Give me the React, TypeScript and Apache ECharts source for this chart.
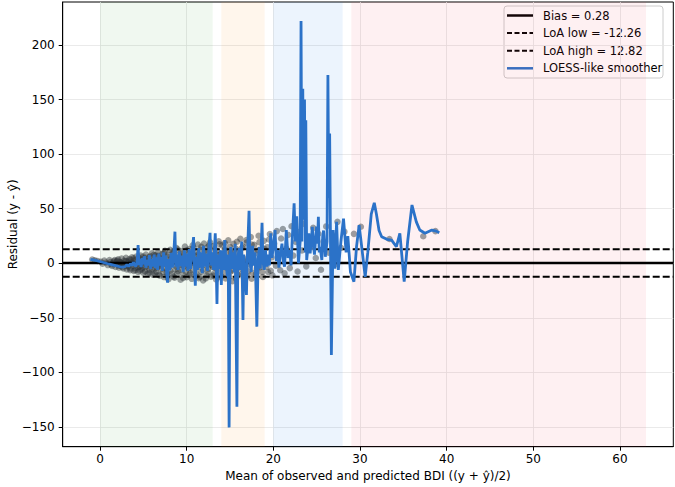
import React, { useEffect, useRef } from 'react';
import * as echarts from 'echarts';

const X_MIN = -4.3;
const X_MAX = 66.15;
const Y_MIN = -168.0;
const Y_MAX = 239.4;

const xTicks = [0, 10, 20, 30, 40, 50, 60];
const yTicks = [-150, -100, -50, 0, 50, 100, 150, 200];

const bias = 0.28;
const loaLow = -12.26;
const loaHigh = 12.82;

const legendLabels = ['Bias = 0.28', 'LoA low = -12.26', 'LoA high = 12.82', 'LOESS-like smoother'];

// BDI severity bands [from, to]
const bandRanges: [number, number][] = [[0, 13], [14, 19], [20, 28], [29, 63]];
const bandColors = ['rgba(44,160,44,0.07)', 'rgba(255,160,40,0.09)', 'rgba(40,130,230,0.09)', 'rgba(240,60,90,0.08)'];

// Scatter of (mean, residual)
const scatterPoints: [number, number][] = [
  [-0.9,3.5],[-0.6,2.8],[-0.3,2.2],[0.1,1.5],[0.3,-0.4],[0.5,2.6],[0.7,0.8],[0.9,-1.6],[1.1,3.0],[1.2,1.2],[1.4,-2.5],[1.5,0.4],[1.7,2.9],[1.8,-3.3],[1.9,1.7],[2.0,-0.8],
  [2.1,3.6],[2.2,-4.0],[2.3,1.1],[2.4,-2.2],[2.5,4.3],[2.6,0.2],[2.7,-4.8],[2.8,2.4],[2.9,-1.5],[3.0,5.1],[3.1,-5.6],[3.2,1.8],[3.3,-3.0],[3.4,3.9],[3.5,-6.4],[3.6,0.7],[3.7,5.6],[3.8,-2.1],[3.9,-6.9],[4.0,2.8],[4.1,-4.3],[4.2,6.3],[4.3,-0.6],[4.4,-7.8],[4.5,3.7],[4.6,-2.8],[4.7,7.1],[4.8,-5.5],[4.9,1.2],[5.0,-8.6],
  [5.1,4.6],[5.2,-3.5],[5.3,8.0],[5.4,-0.9],[5.5,-9.3],[5.6,2.5],[5.7,-6.1],[5.8,6.5],[5.9,-1.8],[6.0,9.2],[6.1,-10.4],[6.2,3.3],[6.3,-4.6],[6.4,7.4],[6.5,-7.7],[6.6,0.4],[6.7,10.1],[6.8,-2.6],[6.9,-11.3],[7.0,5.0],[7.1,-5.2],[7.2,8.6],[7.3,-0.5],[7.4,-12.6],[7.5,11.5],[7.6,2.1],[7.7,-8.4],[7.8,6.2],[7.9,-14.5],[8.0,-3.1],
  [8.1,12.3],[8.2,4.2],[8.3,-9.5],[8.4,0.9],[8.5,9.8],[8.6,-13.2],[8.7,-5.4],[8.8,14.1],[8.9,3.1],[9.0,-7.2],[9.1,7.6],[9.2,-1.7],[9.3,-15.0],[9.4,11.2],[9.5,5.5],[9.6,-10.3],[9.7,-2.6],[9.8,15.4],[9.9,1.9],[10.0,-12.8],[10.1,8.3],[10.2,-4.5],[10.3,13.0],[10.4,-8.9],[10.5,3.8],[10.6,-14.2],[10.7,16.5],[10.8,-0.7],[10.9,6.9],[11.0,-11.4],
  [11.1,10.6],[11.2,-3.9],[11.3,17.2],[11.4,-13.6],[11.5,2.7],[11.6,12.4],[11.7,-7.8],[11.8,5.9],[11.9,-15.6],[12.0,18.1],[12.1,-1.3],[12.2,9.0],[12.3,-10.9],[12.4,14.7],[12.5,-5.1],[12.6,0.3],[12.7,19.3],[12.8,-12.2],[12.9,7.3],[13.0,-3.3],[13.1,15.9],[13.2,-9.1],[13.3,4.6],[13.4,-14.8],[13.5,11.7],[13.6,-0.4],[13.7,20.2],[13.8,-6.7],[13.9,8.5],[14.0,-11.8],
  [14.1,16.4],[14.2,-2.5],[14.4,12.9],[14.5,-13.9],[14.7,4.1],[14.8,21.0],[15.0,-8.0],[15.1,9.6],[15.3,-16.3],[15.4,17.8],[15.6,-0.8],[15.7,13.4],[15.9,-10.6],[16.0,6.1],[16.2,22.4],[16.3,-4.7],[16.5,15.3],[16.6,-12.9],[16.8,1.5],[16.9,19.0],[17.1,-7.3],[17.2,10.5],[17.4,24.0],[17.5,-14.1],[17.7,3.4],[17.8,16.9],[18.0,-9.8],
  [18.2,12.0],[18.3,25.3],[18.5,-3.6],[18.6,7.8],[18.8,-12.5],[18.9,20.6],[19.1,0.6],[19.3,14.8],[19.4,-7.9],[19.6,26.9],[19.8,5.3],[19.9,-11.0],[20.1,18.2],[20.3,-2.2],[20.4,29.5],[20.6,9.4],[20.8,-6.3],[20.9,22.7],[21.1,31.4],
  [21.3,-9.2],[21.5,13.6],[21.7,26.0],[21.9,-4.4],[22.1,34.0],[22.3,7.1],[22.6,19.5],[22.8,-7.5],[23.0,28.7],[23.3,11.8],[23.5,36.2],[23.8,-2.8],[24.0,23.3],[24.3,15.0],[24.6,32.5],[24.9,4.9],[25.2,27.1],[25.5,-5.9],[25.8,19.9],[26.1,33.8],[26.4,9.7],[26.8,25.6],[27.1,-1.1],[27.4,38.0],[27.8,14.2],[28.2,29.0],
  [29.3,27.0],[30.1,33.5],[33.4,22.3],[37.3,24.8],[38.7,29.5]
];

const scatterPointsDense: [number, number][] = [
  [1.3,-1.0],[1.6,1.9],[2.0,2.6],[2.2,-1.9],[2.4,0.9],[2.6,-3.6],[2.8,-0.6],[3.0,2.0],[3.1,-2.4],[3.3,0.5],[3.5,-4.8],[3.6,3.2],[3.8,-0.2],[3.9,4.5],[4.1,-6.2],[4.2,1.4],[4.4,-3.5],[4.5,5.3],[4.6,-6.6],[4.8,0.3],[4.9,-4.0],[5.0,6.1],[5.2,-7.5],[5.3,2.2],[5.5,-2.8],[5.6,5.4],[5.7,-8.6],[5.9,0.9],[6.0,-5.3],[6.2,7.9],[6.3,-9.4],[6.4,1.6],[6.6,-3.9],[6.7,6.8],[6.8,-10.2],[7.0,-0.8],[7.1,3.6],[7.3,-8.0],[7.4,9.6],[7.5,-4.4],[7.7,1.2],[7.8,-11.6],[7.9,7.7],[8.1,-6.8],[8.2,-0.4],[8.4,10.9],[8.5,-12.1],[8.6,4.8],[8.8,-2.9],[8.9,-9.8],[9.0,12.6],[9.2,1.0],[9.3,-5.8],[9.5,8.9],[9.6,-13.4],[9.7,3.4],[9.9,-7.6],[10.0,11.8],[10.1,-1.4],[10.3,-10.6],[10.4,6.2],[10.6,0.4],[10.7,-6.2],[10.8,13.9],[11.0,2.3],[11.1,-9.4],[11.3,8.1],[11.4,-1.8],[11.5,-12.3],[11.7,15.1],[11.8,0.9],[11.9,-5.9],[12.1,11.3],[12.2,-13.9],[12.4,3.5],[12.5,-8.4],[12.6,16.6],[12.8,5.2],[12.9,-1.6],[13.1,-11.3],[13.2,12.8],[13.3,-4.4],[13.5,7.9],[13.6,-13.0],[13.8,17.4],[13.9,-2.1],[14.1,3.3],[14.3,-8.8],[14.4,18.6],[14.6,-4.0],[14.7,10.1],[14.9,-12.4],[15.0,15.2],[15.2,1.7],[15.3,-6.6],[15.5,11.0],[15.7,-14.0],[15.8,19.8],[16.0,-2.6],[16.1,8.4],[16.3,-9.9],[16.4,14.1],[16.6,3.9],[16.7,-6.0],[16.9,21.3],[17.0,-11.8],[17.2,6.7],[17.3,-1.2],[17.5,17.2],[17.6,-8.6],[17.9,9.1],[18.1,-4.9],[18.4,19.4],[18.7,-8.0],[19.0,13.0],[19.2,-3.0],[19.5,21.8],[19.7,-6.8]
];

// LOESS-like smoother (mean, residual)
const smootherPoints: [number, number][] = [
  [-1.1,3.7],[-0.5,2.6],[0.2,1.2],[1.0,-0.6],[1.8,-2.2],[2.5,-3.6],[2.9,-3.0],[3.1,-1.2],[3.3,-2.8],[3.5,-0.5],[3.7,-2.0],[3.85,1.0],[4.0,-1.5],[4.15,-3.0],[4.3,3.0],[4.4,16.8],[4.5,-1.5],[4.6,4.0],[4.75,-3.5],[4.9,5.0],[5.0,-1.0],[5.15,6.5],[5.3,-4.0],[5.45,3.0],[5.6,-2.0],[5.7,7.5],[5.85,-5.0],[6.0,4.0],[6.1,-3.0],[6.25,8.0],[6.4,-4.5],[6.5,5.5],[6.65,-6.0],[6.8,9.0],[6.9,-2.0],[7.05,6.0],[7.2,-7.0],[7.35,10.0],[7.45,-3.0],[7.6,7.0],[7.7,-9.0],[7.8,-17.7],[7.9,4.0],[8.05,-6.5],[8.2,9.5],[8.35,-4.0],[8.5,6.0],[8.65,29.0],[8.75,-3.0],[8.9,8.0],[9.0,-6.0],[9.15,11.0],[9.3,-2.5],[9.45,7.0],[9.6,-8.0],[9.75,12.0],[9.85,-3.0],[10.0,9.0],[10.15,-7.0],[10.3,13.0],[10.45,-5.0],[10.6,8.0],[10.8,24.0],[10.9,-2.0],[11.0,-20.5],[11.1,6.0],[11.25,-6.0],[11.4,14.0],[11.5,-4.0],[11.65,10.0],[11.8,-9.0],[11.95,16.0],[12.1,-3.0],[12.25,9.0],[12.4,-7.0],[12.55,12.0],[12.7,28.0],[12.8,-2.0],[12.95,10.0],[13.1,-6.0],[13.3,27.5],[13.4,2.0],[13.5,-37.3],[13.6,8.0],[13.75,-5.0],[13.9,12.0],[14.0,-19.9],
  [14.15,12.0],[14.3,-6.0],[14.4,21.3],[14.55,0.0],[14.7,-12.0],[14.8,8.0],[14.9,-150.3],[15.0,5.0],[15.1,15.0],[15.2,-5.0],[15.35,10.0],[15.5,-8.0],[15.6,18.0],[15.8,-131.4],[15.9,4.0],[16.05,14.0],[16.2,-6.0],[16.35,20.0],[16.5,-52.0],[16.6,8.0],[16.75,-10.0],[16.9,-29.0],[17.0,5.0],[17.2,48.2],[17.3,2.0],[17.45,-8.0],[17.6,16.0],[17.75,-2.0],[17.9,10.0],[18.1,-58.0],[18.25,4.0],[18.4,15.0],[18.5,-5.0],[18.7,37.2],[18.8,2.0],[18.95,-6.0],[19.1,12.0],[19.25,-3.0],[19.4,8.0],[19.55,-2.0],[19.7,27.5],[19.85,5.0],[20.0,15.0],[20.2,30.5],[20.35,2.0],[20.5,12.0],[20.65,-4.0],[20.8,8.0],[21.0,18.0],[21.15,2.0],[21.3,-3.0],[21.5,30.5],[21.7,5.0],[21.9,12.0],[22.05,-2.0],[22.2,25.0],[22.4,55.0],[22.55,20.0],[22.7,43.0],[22.9,0.0],[23.1,20.0],[23.2,222.0],[23.3,20.0],[23.4,160.0],[23.5,40.0],[23.6,150.0],[23.7,10.0],[23.75,131.0],[23.85,3.0],[24.0,15.0],[24.1,27.5],[24.25,9.0],[24.4,22.0],[24.5,33.5],[24.65,15.0],[24.75,8.0],[24.9,25.0],[25.0,33.5],[25.1,18.0],[25.2,42.7],[25.3,10.0],[25.4,15.0],[25.6,3.0],[25.7,25.0],[25.8,30.0],[26.0,6.0],[26.2,20.0],[26.3,172.5],[26.4,60.0],[26.5,119.0],[26.7,-84.0],[26.9,30.5],[27.1,-5.0],[27.3,38.0],[27.5,-6.0],[27.8,20.0],[28.1,41.0],[28.4,10.0],[28.6,25.0],[28.9,-8.0],[29.3,-16.8],[29.6,15.0],[29.9,35.0],[30.2,15.0],[30.6,-12.3],[30.9,10.0],[31.3,45.0],[31.65,55.5],[31.9,45.0],[32.2,30.0],[32.5,24.4],[33.1,22.0],[33.65,21.3],[34.2,15.2],[34.6,27.5],[35.1,-16.8],[35.5,20.0],[36.0,53.4],[36.5,38.0],[36.9,30.5],[37.5,27.5],[38.3,30.5],[38.8,29.5],[39.15,28.0]
];

const minus = (v: number) => String(v).replace('-', '\u2212');
const FONT = 'DejaVu Sans';

export default function App() {
  const ref = useRef<HTMLDivElement>(null);
  useEffect(() => {
    document.body.style.margin = '0';
    const chart = echarts.init(ref.current!, null, { renderer: 'svg' });
    const hline = (name: string, v: number, type: any, width: number) => ({
      name,
      type: 'line',
      data: [[X_MIN, v], [X_MAX, v]],
      symbol: 'none',
      z: 4,
      lineStyle: { color: '#000', width, type },
      itemStyle: { color: '#000' },
      silent: true,
    });
    const legendStyles = [
      { stroke: '#000', lineWidth: 2.5 },
      { stroke: '#000', lineWidth: 2, lineDash: [5, 2.5] },
      { stroke: '#000', lineWidth: 2, lineDash: [5, 2.5] },
      { stroke: '#2b72c8', lineWidth: 2.5 },
    ];
    const lx = 504, ly = 6, rowH = 17.6;
    const legendGraphic = {
      type: 'group',
      z: 100,
      children: [
        {
          type: 'rect',
          shape: { x: lx, y: ly, width: 159, height: 72, r: 3 },
          style: { fill: 'rgba(255,255,255,0.85)', stroke: '#cccccc', lineWidth: 1 },
        },
        ...legendLabels.flatMap((label, i) => {
          const cy = ly + 9.5 + i * rowH;
          return [
            { type: 'line', shape: { x1: lx + 3, y1: cy, x2: lx + 29, y2: cy }, style: legendStyles[i] },
            { type: 'text', x: lx + 39, y: cy, style: { text: label, fontSize: 11.5, fontFamily: FONT, fill: '#000', verticalAlign: 'middle', align: 'left' } },
          ];
        }),
      ],
    };
    chart.setOption({
      animation: false,
      textStyle: { fontFamily: FONT },
      grid: { left: 62.7, right: 1.7, top: 2, bottom: 40.3, show: true, borderColor: '#000', borderWidth: 1, backgroundColor: 'transparent', containLabel: false, outerBoundsMode: 'none' },
      graphic: [legendGraphic],
      xAxis: {
        type: 'value', min: X_MIN, max: X_MAX,
        name: 'Mean of observed and predicted BDI ((y + \u0177)/2)',
        nameLocation: 'middle', nameGap: 23, nameMoveOverlap: false,
        nameTextStyle: { fontSize: 12, color: '#000', fontFamily: FONT },
        axisLine: { show: true, onZero: false, lineStyle: { color: '#000', width: 1 } },
        axisTick: { show: true, customValues: xTicks, length: 4, lineStyle: { color: '#000' } },
        axisLabel: { customValues: xTicks, fontSize: 12, color: '#000', margin: 6, formatter: (v: number) => minus(v) },
        splitLine: { show: true, lineStyle: { color: '#e4e4e4', width: 0.8 } },
      },
      yAxis: {
        type: 'value', min: Y_MIN, max: Y_MAX,
        name: 'Residual (y - \u0177)',
        nameLocation: 'middle', nameGap: 44, nameMoveOverlap: false,
        nameTextStyle: { fontSize: 12, color: '#000', fontFamily: FONT },
        axisLine: { show: true, onZero: false, lineStyle: { color: '#000', width: 1 } },
        axisTick: { show: true, customValues: yTicks, length: 4, lineStyle: { color: '#000' } },
        axisLabel: { customValues: yTicks, fontSize: 12, color: '#000', margin: 8, formatter: (v: number) => minus(v) },
        splitLine: { show: true, lineStyle: { color: '#e4e4e4', width: 0.8 } },
      },
      series: [
        {
          name: 'bands', type: 'line', data: [], z: 1, silent: true,
          markArea: {
            silent: true,
            data: bandRanges.map((r, i) => [
              { xAxis: r[0], itemStyle: { color: bandColors[i] } },
              { xAxis: r[1] },
            ]),
          },
        },
        {
          name: 'points', type: 'scatter', data: scatterPoints.concat(scatterPointsDense), z: 2, symbolSize: 6.5,
          itemStyle: { color: '#2a3036', opacity: 0.45 }, silent: true,
        },
        hline(legendLabels[0], bias, 'solid', 2.5),
        hline(legendLabels[1], loaLow, [7, 3], 2),
        hline(legendLabels[2], loaHigh, [7, 3], 2),
        {
          name: legendLabels[3], type: 'line', data: smootherPoints, symbol: 'none', z: 5,
          lineStyle: { color: '#2b72c8', width: 2.8 }, itemStyle: { color: '#2b72c8' }, silent: true,
        },
      ],
    });
    return () => chart.dispose();
  }, []);
  return <div ref={ref} style={{ width: 675, height: 487 }} />;
}
